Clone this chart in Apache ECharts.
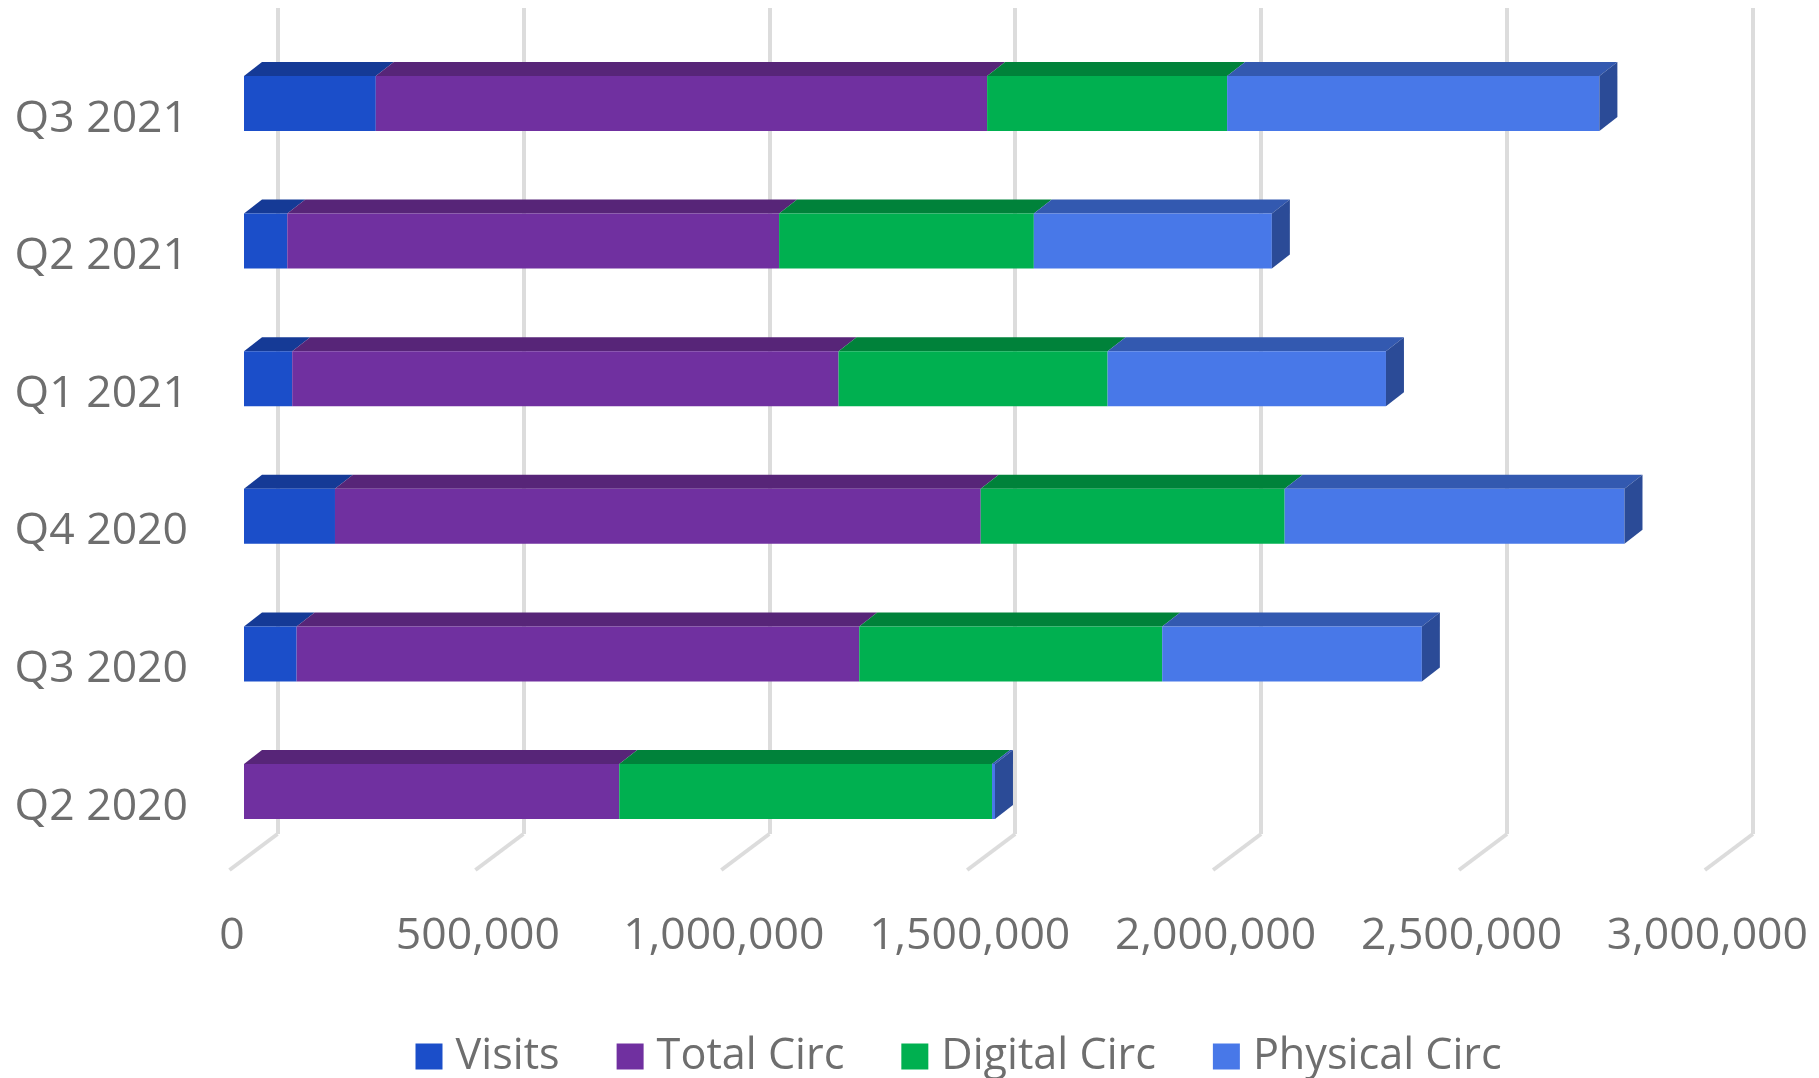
<!DOCTYPE html>
<html lang="en">
<head>
    <meta charset="UTF-8" />
    <title>Visits and circulation by quarter</title>
    <script src="https://cdn.jsdelivr.net/npm/echarts@6/dist/echarts.min.js"></script>
    <style>
        html, body { margin: 0; background: #fff; }
        #chart { width: 1819px; height: 1078px; }
    </style>
</head>
<body>
    <div id="chart"></div>
    <script>
        const categories = ["Q2 2020", "Q3 2020", "Q4 2020", "Q1 2021", "Q2 2021", "Q3 2021"];
        const xTicks = [0, 500000, 1000000, 1500000, 2000000, 2500000, 3000000];
        const visits = [0, 107000, 185000, 98000, 88000, 268000];
        const totalCirc = [763000, 1144000, 1313000, 1111000, 1000000, 1243000];
        const digitalCirc = [758000, 616000, 618000, 547000, 518000, 488000];
        const physicalCirc = [6000, 528000, 691000, 566000, 484000, 757000];

        const names = ["Visits", "Total Circ", "Digital Circ", "Physical Circ"];
        const values = [visits, totalCirc, digitalCirc, physicalCirc];
        const colors = [
            { front: "#1b4ec9", top: "#153a96" },
            { front: "#7030a0", top: "#572578" },
            { front: "#00b050", top: "#00823a" },
            { front: "#4878e8", top: "#3359b0" }
        ];
        const sideColor = "#2b4b97";

        // 3D depth of the bars and of the floor lines, in px
        const barDx = 18, barDy = 14;
        const floorDx = 48, floorDy = 36;

        const labelColor = "#6e6e6e";
        const axisFont = { fontFamily: "Open Sans", fontSize: 44.5, color: labelColor };
        const legendFont = { fontFamily: "Open Sans", fontSize: 43.2, color: labelColor };

        // stacked start/end for every segment
        const totals = categories.map(() => 0);
        const barSeries = names.map((name, s) => {
            const data = categories.map((c, i) => {
                const start = totals[i];
                totals[i] += values[s][i];
                return [start, totals[i], i];
            });
            return {
                type: "custom",
                name: name,
                xAxisIndex: 0,
                yAxisIndex: 0,
                silent: true,
                clip: false,
                z: 5,
                itemStyle: { color: colors[s].front },
                encode: { x: [0, 1], y: 2 },
                data: data,
                renderItem: (params, api) => {
                    const a = api.coord([api.value(0), api.value(2)]);
                    const b = api.coord([api.value(1), api.value(2)]);
                    const h = api.size([0, 1])[1] * 0.4;
                    const y = a[1] - h / 2;
                    const children = [];
                    if (b[0] > a[0]) {
                        children.push({
                            type: "polygon",
                            shape: { points: [[a[0], y], [b[0], y], [b[0] + barDx, y - barDy], [a[0] + barDx, y - barDy]] },
                            style: { fill: colors[s].top }
                        });
                        children.push({
                            type: "rect",
                            shape: { x: a[0], y: y, width: b[0] - a[0], height: h },
                            style: { fill: colors[s].front }
                        });
                    }
                    if (s === names.length - 1) {
                        children.push({
                            type: "polygon",
                            shape: { points: [[b[0], y], [b[0] + barDx, y - barDy], [b[0] + barDx, y + h - barDy], [b[0], y + h]] },
                            style: { fill: sideColor }
                        });
                    }
                    return { type: "group", children: children };
                }
            };
        });

        const floorSeries = {
            type: "custom",
            xAxisIndex: 1,
            yAxisIndex: 1,
            silent: true,
            clip: false,
            z: 1,
            encode: { x: 0, y: 1 },
            data: xTicks.map(t => [t, 0]),
            renderItem: (params, api) => {
                const p = api.coord([api.value(0), 0]);
                return {
                    type: "line",
                    shape: { x1: p[0], y1: p[1], x2: p[0] - floorDx, y2: p[1] + floorDy },
                    style: { stroke: "#dcdcdc", lineWidth: 4 }
                };
            }
        };

        const chart = echarts.init(document.getElementById("chart"));
        chart.setOption({
            animation: false,
            backgroundColor: "#fff",
            legend: {
                data: names,
                left: 410.5,
                top: 1030,
                icon: "rect",
                itemWidth: 27,
                itemHeight: 26,
                itemGap: 57,
                textStyle: Object.assign({ padding: [0, 0, 0, 8] }, legendFont)
            },
            grid: [
                { left: 244, top: 34.7, width: 1475.4, height: 825.6 }, // bar fronts
                { left: 277.5, top: 8, width: 1475.4, height: 826 }, // back wall
                { left: 232, top: 50.2, width: 1475.4, height: 825.6 } // axis labels
            ],
            xAxis: [
                { type: "value", gridIndex: 0, min: 0, max: 3000000, interval: 500000, show: false },
                {
                    type: "value", gridIndex: 1, min: 0, max: 3000000, interval: 500000,
                    axisLine: { show: false }, axisTick: { show: false }, axisLabel: { show: false },
                    splitLine: { show: true, lineStyle: { color: "#dcdcdc", width: 4 } }
                },
                {
                    type: "value", gridIndex: 2, min: 0, max: 3000000, interval: 500000,
                    axisLine: { show: false }, axisTick: { show: false }, splitLine: { show: false },
                    axisLabel: Object.assign({
                        margin: 38,
                        hideOverlap: false,
                        showMinLabel: true,
                        showMaxLabel: true,
                        formatter: v => v.toLocaleString("en-US")
                    }, axisFont)
                }
            ],
            yAxis: [
                { type: "category", gridIndex: 0, data: categories, show: false },
                { type: "value", gridIndex: 1, min: 0, max: 1, show: false },
                {
                    type: "category", gridIndex: 2, data: categories,
                    axisLine: { show: false }, axisTick: { show: false }, splitLine: { show: false },
                    axisLabel: Object.assign({ margin: 44 }, axisFont)
                }
            ],
            series: [floorSeries].concat(barSeries)
        });
    </script>
</body>
</html>
